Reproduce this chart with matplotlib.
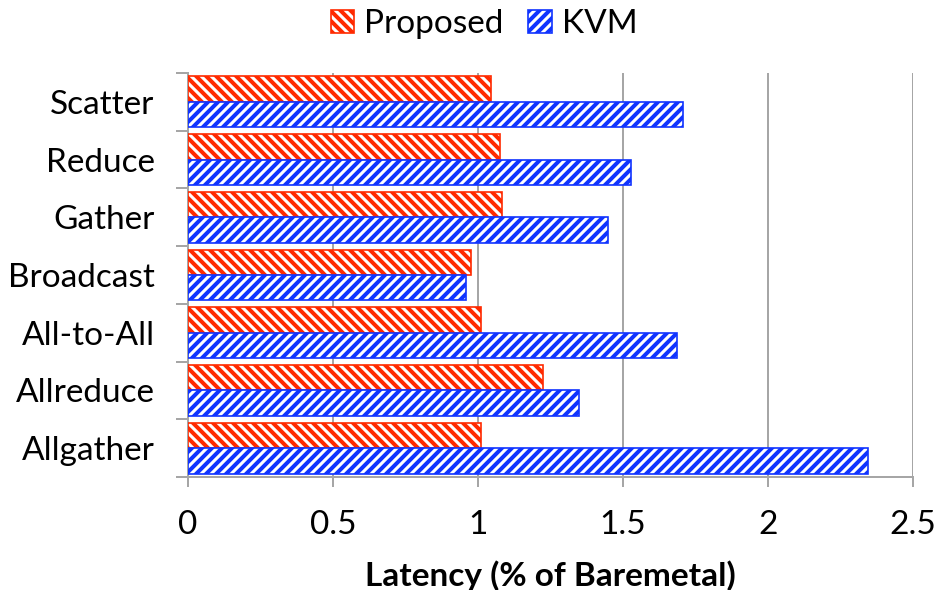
import matplotlib
matplotlib.use('Agg')
import matplotlib.pyplot as plt
import numpy as np

categories = ["Allgather", "Allreduce", "All-to-All", "Broadcast", "Gather", "Reduce", "Scatter"]
proposed = [1.009, 1.225, 1.009, 0.976, 1.084, 1.076, 1.044]
kvm = [2.346, 1.348, 1.687, 0.958, 1.447, 1.527, 1.706]
xticks = [0, 0.5, 1, 1.5, 2, 2.5]
xtick_labels = ["0", "0.5", "1", "1.5", "2", "2.5"]

RED = "#ff2a00"
BLUE = "#1034ff"
GRAY = "#a6a6a6"
BSLASH = chr(92)

DPI = 120
FS = 20
plt.rcParams['font.family'] = ['Lato', 'DejaVu Sans']
plt.rcParams['hatch.linewidth'] = 2.4

fig = plt.figure(figsize=(938 / DPI, 590 / DPI), dpi=DPI)
ax = fig.add_axes([188 / 938, 1 - 477 / 590, (913 - 188) / 938, (477 - 73) / 590])

y = np.arange(len(categories))
h = 0.44
ax.barh(y + h / 2, proposed, height=h, facecolor="white", edgecolor=RED,
        hatch=BSLASH * 4, linewidth=1.0, label="Proposed", zorder=3)
ax.barh(y - h / 2, kvm, height=h, facecolor="white", edgecolor=BLUE,
        hatch="////", linewidth=1.0, label="KVM", zorder=3)

ax.set_xlim(0, 2.5)
ax.set_ylim(-0.5, len(categories) - 0.5)
ax.set_xticks(xticks)
ax.set_xticklabels(xtick_labels, fontsize=FS)
ax.set_yticks(y)
ax.set_yticklabels(categories, fontsize=FS)
ax.set_yticks(np.arange(-0.5, len(categories), 1), minor=True)
ax.tick_params(axis='y', which='major', length=0, pad=20)
ax.tick_params(axis='y', which='minor', length=7, width=1.2, color=GRAY)
ax.tick_params(axis='x', length=6, width=1.2, color=GRAY, pad=13.5)

ax.grid(axis='x', color=GRAY, linewidth=1.2, zorder=0)
ax.set_axisbelow(True)
for side in ['top', 'right']:
    ax.spines[side].set_visible(False)
for side in ['left', 'bottom']:
    ax.spines[side].set_color(GRAY)
    ax.spines[side].set_linewidth(1.2)

ax.set_xlabel("Latency (% of Baremetal)", fontsize=FS, fontweight='bold', labelpad=12.5)

fig.legend(loc='upper center', bbox_to_anchor=(0.516, 1.035), ncol=2, frameon=False,
           fontsize=FS, handlelength=0.7, handleheight=0.7, handletextpad=0.3,
           columnspacing=0.75)

fig.savefig("out.png", dpi=DPI)
